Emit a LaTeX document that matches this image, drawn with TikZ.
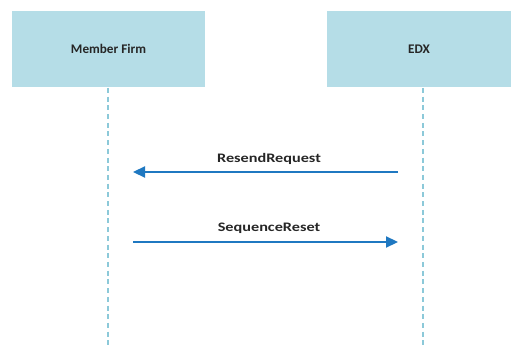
\documentclass[tikz,border=0pt]{standalone}
\usepackage{fontspec}
\setmainfont{Carlito}
\usetikzlibrary{arrows.meta}
\definecolor{boxfill}{HTML}{B5DDE7}
\definecolor{lifeline}{HTML}{8CC9D9}
\definecolor{msgblue}{HTML}{1F78C1}
\tikzset{
  actor/.style={fill=boxfill, draw=none, font=\bfseries\fontsize{13.2}{15}\selectfont, text=black!85},
  life/.style={draw=lifeline, line width=1.8pt, dash pattern=on 5pt off 3.7pt},
  msg/.style={draw=msgblue, line width=2.2pt, -{Triangle[length=12pt,width=11pt]}},
  lbl/.style={font=\bfseries\fontsize{13}{15}\selectfont, text=black!85, xscale=1.25}
}
\begin{document}
\begin{tikzpicture}[x=1pt,y=-1pt]
\useasboundingbox (0,0) rectangle (511,347);
\node[actor, minimum width=193pt, minimum height=76pt] (mf) at (108.5,49) {Member Firm};
\node[actor, minimum width=184pt, minimum height=76pt] (edx) at (419,49) {EDX};
\coordinate (mfend) at (108,347);
\coordinate (edxend) at (423,347);
\draw[life] (108,88) -- (mfend);
\draw[life] (423,88) -- (edxend);
\coordinate (r1s) at (398,172);
\coordinate (r1e) at (133,172);
\coordinate (r2s) at (133,242);
\coordinate (r2e) at (398,242);
\draw[msg] (r1s) -- (r1e);
\draw[msg] (r2s) -- (r2e);
\node[lbl] (l1) at (269,159) {ResendRequest};
\node[lbl] (l2) at (269,228) {SequenceReset};
\end{tikzpicture}
\end{document}
